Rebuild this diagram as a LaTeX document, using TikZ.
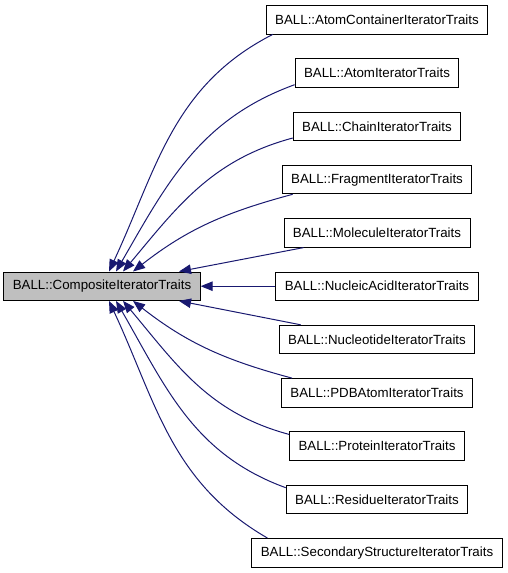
\documentclass[tikz,border=0pt]{standalone}
\usepackage{fontspec}
\setmainfont{Liberation Sans}
\usepackage{tikz}
\usetikzlibrary{arrows.meta, positioning}
\definecolor{EdgeBlue}{HTML}{191970}
\definecolor{BaseGray}{HTML}{BFBFBF}

\begin{document}
\begin{tikzpicture}[node distance=53.3pt, on grid, font=\fontsize{13.3}{15}\selectfont, cls/.style={rectangle, draw, line width=0.9pt, inner xsep=9pt, minimum height=28.5pt, align=center}, inh/.style={color=EdgeBlue, line width=1pt, -{Triangle[length=12pt, width=9.5pt]}}]

        \useasboundingbox (0pt,0pt) rectangle (507pt,-573pt);

        \node[cls] (AC) at (377pt,-19.7pt) {BALL::AtomContainerIteratorTraits};
        \node[cls, below=of AC] (AI) {BALL::AtomIteratorTraits};
        \node[cls, below=of AI] (CH) {BALL::ChainIteratorTraits};
        \node[cls, below=of CH] (FR) {BALL::FragmentIteratorTraits};
        \node[cls, below=of FR] (MO) {BALL::MoleculeIteratorTraits};
        \node[cls, below=of MO] (NA) {BALL::NucleicAcidIteratorTraits};
        \node[cls, below=of NA] (NU) {BALL::NucleotideIteratorTraits};
        \node[cls, below=of NU] (PDB) {BALL::PDBAtomIteratorTraits};
        \node[cls, below=of PDB] (PR) {BALL::ProteinIteratorTraits};
        \node[cls, below=of PR] (RE) {BALL::ResidueIteratorTraits};
        \node[cls, below=of RE] (SS) {BALL::SecondaryStructureIteratorTraits};
        \node[cls, fill=BaseGray, left=275pt of NA] (CIT) {BALL::CompositeIteratorTraits};

        \path[inh]
        ([xshift=7pt]AC.south west) edge[out=207, in=65] ([xshift=7pt]CIT.north)
        ([yshift=3pt]AI.south west) edge[out=200, in=60] ([xshift=14pt]CIT.north)
        ([yshift=3pt]CH.south west) edge[out=195, in=50] ([xshift=21pt]CIT.north)
        ([xshift=11pt]FR.south west) edge[out=195, in=38] ([xshift=31pt]CIT.north)
        ([xshift=20pt]MO.south west) edge ([xshift=77pt]CIT.north)
        (NA) edge (CIT)
        ([xshift=22pt]NU.north west) edge ([xshift=77pt]CIT.south)
        ([xshift=11pt]PDB.north west) edge[out=165, in=-38] ([xshift=31pt]CIT.south)
        ([yshift=-3pt]PR.north west) edge[out=165, in=-50] ([xshift=21pt]CIT.south)
        ([yshift=-3pt]RE.north west) edge[out=160, in=-60] ([xshift=14pt]CIT.south)
        ([xshift=16pt]SS.north west) edge[out=150, in=-65] ([xshift=7pt]CIT.south)
        ;

    \end{tikzpicture}
\end{document}
